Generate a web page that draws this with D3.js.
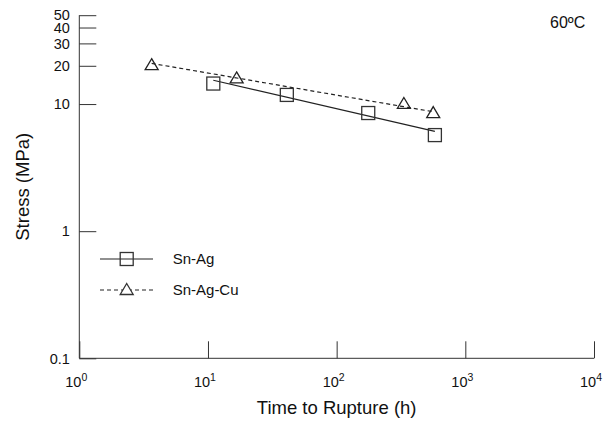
<!DOCTYPE html>
<html>
<head>
<meta charset="utf-8">
<script src="https://cdn.jsdelivr.net/npm/d3@7"></script>
<style>
  body { margin: 0; background: #fff; }
  text { font-family: Arial, "Liberation Sans", sans-serif; fill: #111; }
</style>
</head>
<body>
<div id="chart"></div>
<script>
// data (time in h, stress in MPa)
const snAgTime = [11, 41, 176, 580];
const snAgStress = [14.5, 11.8, 8.5, 5.7];
const snAgCuTime = [3.65, 16.7, 333, 563];
const snAgCuStress = [20.6, 16.2, 10.2, 8.65];
// straight fit lines drawn through each series (endpoints)
const snAgFit = [[11, 15.4], [580, 6.1]];
const snAgCuFit = [[3.65, 20.9], [563, 8.7]];

const xTicks = [1, 10, 100, 1000, 10000];
const xTickExp = ["0", "1", "2", "3", "4"];
const yTicks = [0.1, 1, 10, 20, 30, 40, 50];
const yTickLabels = ["0.1", "1", "10", "20", "30", "40", "50"];

const width = 615, height = 428;
const margin = { top: 15.2, right: 21, bottom: 69.7, left: 79.3 };

const svg = d3.select("#chart").append("svg")
    .attr("width", width)
    .attr("height", height);

const x = d3.scaleLog().domain([1, 10000]).range([margin.left, width - margin.right]);
const y = d3.scaleLog().domain([0.1, 50]).range([height - margin.bottom, margin.top]);

const axisColor = "#333";

// y axis, ticks point inward
const gy = svg.append("g")
    .attr("transform", `translate(${margin.left},0)`)
    .call(d3.axisRight(y).tickValues(yTicks).tickSize(17).tickFormat(""));
gy.select(".domain").attr("stroke", axisColor).attr("d", `M0,${y(50)}V${y(0.1)}`);
gy.selectAll(".tick line").attr("stroke", axisColor);

gy.selectAll(".ylab")
    .data(yTicks)
    .enter().append("text")
    .attr("x", -9.5)
    .attr("y", d => y(d))
    .attr("dy", "0.36em")
    .attr("text-anchor", "end")
    .style("font-size", "14.5px")
    .text((d, i) => yTickLabels[i]);

// x axis, ticks point up
const gx = svg.append("g")
    .attr("transform", `translate(0,${y(0.1)})`)
    .call(d3.axisTop(x).tickValues(xTicks).tickSize(17).tickFormat(""));
gx.select(".domain").attr("stroke", axisColor).attr("d", `M${x(1)},0H${x(10000)}`);
gx.selectAll(".tick line").attr("stroke", axisColor);

const xl = gx.selectAll(".xlab")
    .data(xTicks)
    .enter().append("text")
    .attr("x", d => x(d) - 3)
    .attr("y", 28.5)
    .attr("text-anchor", "middle")
    .style("font-size", "14.5px");
xl.append("tspan").text("10");
xl.append("tspan")
    .attr("dy", -6)
    .style("font-size", "10.5px")
    .text((d, i) => xTickExp[i]);

// axis titles
svg.append("text")
    .attr("x", (x(1) + x(10000)) / 2)
    .attr("y", 414.3)
    .attr("text-anchor", "middle")
    .style("font-size", "18.5px")
    .text("Time to Rupture (h)");

svg.append("text")
    .attr("transform", `translate(28.8,${(y(0.1) + y(50)) / 2}) rotate(-90)`)
    .attr("text-anchor", "middle")
    .style("font-size", "18.5px")
    .text("Stress (MPa)");

svg.append("text")
    .attr("x", 550)
    .attr("y", 28.3)
    .style("font-size", "16px")
    .text("60\u00BAC");

// fit lines
const line = d3.line().x(d => x(d[0])).y(d => y(d[1]));

svg.append("path")
    .attr("d", line(snAgFit))
    .attr("fill", "none")
    .attr("stroke", "#222")
    .attr("stroke-width", 1.2);

svg.append("path")
    .attr("d", line(snAgCuFit))
    .attr("fill", "none")
    .attr("stroke", "#222")
    .attr("stroke-width", 1.2)
    .attr("stroke-dasharray", "4,3");

// markers
const sq = 13;
function triPath(cx, cy) {
    const w = 13, h = 11;
    return `M${cx},${cy - h / 2}L${cx + w / 2},${cy + h / 2}L${cx - w / 2},${cy + h / 2}Z`;
}

svg.selectAll(".sq")
    .data(snAgTime)
    .enter().append("rect")
    .attr("x", d => x(d) - sq / 2)
    .attr("y", (d, i) => y(snAgStress[i]) - sq / 2)
    .attr("width", sq)
    .attr("height", sq)
    .attr("fill", "none")
    .attr("stroke", "#333")
    .attr("stroke-width", 1.3);

svg.selectAll(".tri")
    .data(snAgCuTime)
    .enter().append("path")
    .attr("d", (d, i) => triPath(x(d), y(snAgCuStress[i])))
    .attr("fill", "none")
    .attr("stroke", "#222")
    .attr("stroke-width", 1.3);

// legend
const leg = svg.append("g");
leg.append("line")
    .attr("x1", 100).attr("x2", 153).attr("y1", 259).attr("y2", 259)
    .attr("stroke", "#222").attr("stroke-width", 1.2);
leg.append("rect")
    .attr("x", 126.7 - sq / 2).attr("y", 259 - sq / 2)
    .attr("width", sq).attr("height", sq)
    .attr("fill", "none").attr("stroke", "#333").attr("stroke-width", 1.3);
leg.append("text")
    .attr("x", 172.7).attr("y", 259).attr("dy", "0.36em")
    .style("font-size", "15px")
    .text("Sn-Ag");

leg.append("line")
    .attr("x1", 100).attr("x2", 153).attr("y1", 290).attr("y2", 290)
    .attr("stroke", "#222").attr("stroke-width", 1.2)
    .attr("stroke-dasharray", "4,3");
leg.append("path")
    .attr("d", triPath(126.7, 289))
    .attr("fill", "#fff").attr("stroke", "#333").attr("stroke-width", 1.3);
leg.append("text")
    .attr("x", 172.7).attr("y", 290).attr("dy", "0.36em")
    .style("font-size", "15px")
    .text("Sn-Ag-Cu");
</script>
</body>
</html>
